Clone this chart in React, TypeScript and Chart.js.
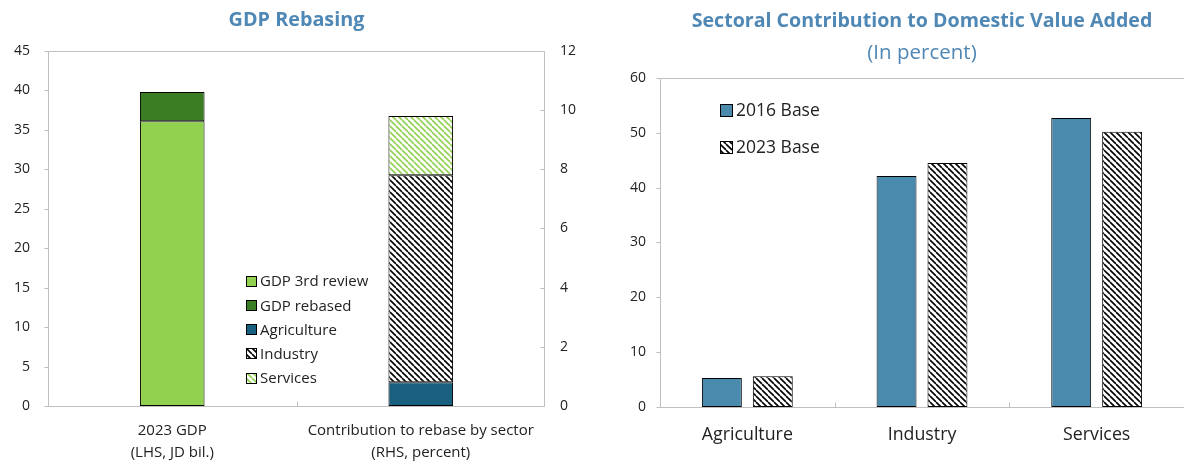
import React, { useEffect, useRef } from 'react';
import { Chart, registerables } from 'chart.js';

Chart.register(...registerables);

const FONT = "'Open Sans', 'Noto Sans', sans-serif";
const TITLE_COLOR = '#4F87B5';
const TEXT_COLOR = '#222222';
const FRAME_COLOR = '#BFBFBF';

// ---- Left chart data ----
const gdpCategories = [
  ['2023 GDP', '(LHS, JD bil.)'],
  ['Contribution to rebase by sector', '(RHS, percent)'],
];
const gdp3rdReview = [36.1, null];
const gdpRebased = [3.7, null];
const agriculture = [null, 0.8];
const industry = [null, 7.0];
const services = [null, 2.0];
const lhsRange = [0, 45, 5];
const rhsRange = [0, 12, 2];

// ---- Right chart data ----
const sectorCategories = ['Agriculture', 'Industry', 'Services'];
const base2016 = [5.3, 42.1, 52.7];
const base2023 = [5.6, 44.5, 50.2];
const sectorRange = [0, 60, 10];

function hatch(color: string, size = 6, lw = 1.6) {
  const c = document.createElement('canvas');
  c.width = size;
  c.height = size;
  const ctx = c.getContext('2d')!;
  ctx.fillStyle = '#ffffff';
  ctx.fillRect(0, 0, size, size);
  ctx.strokeStyle = color;
  ctx.lineWidth = lw;
  ctx.beginPath();
  for (const o of [-size, 0, size]) {
    ctx.moveTo(o, 0);
    ctx.lineTo(o + size, size);
  }
  ctx.stroke();
  return ctx.createPattern(c, 'repeat')!;
}

const framePlugin = {
  id: 'frame',
  beforeDatasetsDraw(chart: any, _args: any, opts: any) {
    const { ctx, chartArea: a } = chart;
    const L = Math.round(a.left) + 0.5;
    const R = Math.round(a.right) - 0.5;
    const T = Math.round(a.top) + 0.5;
    const B = Math.round(a.bottom) + 0.5;
    ctx.save();
    ctx.strokeStyle = FRAME_COLOR;
    ctx.lineWidth = 1;
    ctx.beginPath();
    const sides: string[] = opts.sides || [];
    if (sides.includes('top')) { ctx.moveTo(L, T); ctx.lineTo(opts.extendRight ? chart.width : R, T); }
    if (sides.includes('left')) { ctx.moveTo(L, T); ctx.lineTo(L, B); }
    if (sides.includes('right')) { ctx.moveTo(R, T); ctx.lineTo(R, B); }
    if (sides.includes('bottom')) { ctx.moveTo(L, B); ctx.lineTo(opts.extendRight ? chart.width : R, B); }
    for (const t of opts.yTicks || []) {
      const s = chart.scales[t.id];
      s.ticks.forEach((_: any, i: number) => {
        const y = Math.round(s.getPixelForTick(i)) + 0.5;
        if (t.side === 'left') { ctx.moveTo(L - 4, y); ctx.lineTo(L, y); }
        else { ctx.moveTo(R - 4, y); ctx.lineTo(R, y); }
      });
    }
    const xs = chart.scales.x;
    const n = xs.ticks.length;
    for (let i = 0; i < n - 1; i++) {
      const x = Math.round((xs.getPixelForTick(i) + xs.getPixelForTick(i + 1)) / 2) + 0.5;
      ctx.moveTo(x, B);
      ctx.lineTo(x, B - 5);
    }
    ctx.stroke();
    ctx.restore();
  },
};

const legendPlugin = {
  id: 'boxLegend',
  afterDraw(chart: any, _args: any, opts: any) {
    const { ctx } = chart;
    ctx.save();
    ctx.font = `${opts.fontSize}px ${FONT}`;
    ctx.textBaseline = 'middle';
    ctx.textAlign = 'left';
    chart.data.datasets.forEach((ds: any, i: number) => {
      const y = opts.y + i * opts.spacing;
      const b = opts.box;
      const bx = opts.x;
      const by = Math.round(y - b / 2);
      ctx.fillStyle = ds.backgroundColor;
      ctx.fillRect(bx, by, b, b);
      ctx.strokeStyle = '#000';
      ctx.lineWidth = 1;
      ctx.strokeRect(bx + 0.5, by + 0.5, b - 1, b - 1);
      ctx.fillStyle = TEXT_COLOR;
      ctx.fillText(ds.label, bx + b + opts.gap, y + 1);
    });
    ctx.restore();
  },
};

function GdpChart() {
  const ref = useRef<HTMLCanvasElement>(null);
  useEffect(() => {
    const chart = new Chart(ref.current!, {
      type: 'bar',
      data: {
        labels: gdpCategories as any,
        datasets: [
          { label: 'GDP 3rd review', data: gdp3rdReview, backgroundColor: '#92D050', yAxisID: 'y', stack: 'a' },
          { label: 'GDP rebased', data: gdpRebased, backgroundColor: '#3A7D22', yAxisID: 'y', stack: 'a' },
          { label: 'Agriculture', data: agriculture, backgroundColor: '#195F80', yAxisID: 'y2', stack: 'a' },
          { label: 'Industry', data: industry, backgroundColor: hatch('#000000') as any, yAxisID: 'y2', stack: 'a' },
          { label: 'Services', data: services, backgroundColor: hatch('#92D050') as any, yAxisID: 'y2', stack: 'a' },
        ] as any,
      },
      options: {
        animation: false,
        responsive: false,
        maintainAspectRatio: false,
        layout: { padding: 0 },
        datasets: {
          bar: { borderColor: '#000', borderWidth: 1, borderSkipped: false, categoryPercentage: 0.26, barPercentage: 1, skipNull: true } as any,
        },
        plugins: {
          legend: { display: false },
          tooltip: { enabled: false },
          title: {
            display: true,
            text: 'GDP Rebasing',
            color: TITLE_COLOR,
            font: { family: FONT, size: 19.8, weight: 'bold', lineHeight: 1.2 },
            padding: { top: 8, bottom: 19.2 },
            fullSize: false,
          },
          frame: { sides: ['top', 'left', 'right', 'bottom'], yTicks: [{ id: 'y', side: 'left' }, { id: 'y2', side: 'right' }] },
          boxLegend: { x: 246, y: 281, spacing: 24.3, box: 11, gap: 3, fontSize: 15 },
        } as any,
        scales: {
          x: {
            grid: { display: false, drawTicks: false },
            border: { display: false },
            ticks: { color: TEXT_COLOR, font: { family: FONT, size: 15, lineHeight: 1.5 }, padding: 13, maxRotation: 0, autoSkip: false },
            afterFit: (s: any) => { s.height = 60; },
          },
          y: {
            position: 'left',
            stacked: true,
            min: lhsRange[0], max: lhsRange[1],
            grid: { display: false, drawTicks: false },
            border: { display: false },
            ticks: { stepSize: lhsRange[2], color: TEXT_COLOR, font: { family: FONT, size: 14 }, padding: 18 },
            afterFit: (s: any) => { s.width = 48; },
          },
          y2: {
            position: 'right',
            stacked: true,
            min: rhsRange[0], max: rhsRange[1],
            grid: { display: false, drawTicks: false },
            border: { display: false },
            ticks: { stepSize: rhsRange[2], color: TEXT_COLOR, font: { family: FONT, size: 14 }, padding: 15 },
            afterFit: (s: any) => { s.width = 55; },
          },
        },
      },
      plugins: [framePlugin, legendPlugin],
    });
    return () => chart.destroy();
  }, []);
  return <canvas ref={ref} width={600} height={466} style={{ display: 'block' }} />;
}

function SectorChart() {
  const ref = useRef<HTMLCanvasElement>(null);
  useEffect(() => {
    const chart = new Chart(ref.current!, {
      type: 'bar',
      data: {
        labels: sectorCategories,
        datasets: [
          { label: '2016 Base', data: base2016, backgroundColor: '#4A8BAD' },
          { label: '2023 Base', data: base2023, backgroundColor: hatch('#000000') as any },
        ] as any,
      },
      options: {
        animation: false,
        responsive: false,
        maintainAspectRatio: false,
        layout: { padding: 0 },
        datasets: {
          bar: { borderColor: '#000', borderWidth: 1, borderSkipped: false, categoryPercentage: 0.583, barPercentage: 0.784 } as any,
        },
        plugins: {
          legend: { display: false },
          tooltip: { enabled: false },
          title: {
            display: true,
            text: 'Sectoral Contribution to Domestic Value Added',
            color: TITLE_COLOR,
            font: { family: FONT, size: 19.6, weight: 'bold', lineHeight: 1.2 },
            padding: { top: 10, bottom: 0 },
            fullSize: false,
          },
          subtitle: {
            display: true,
            text: '(In percent)',
            color: TITLE_COLOR,
            font: { family: FONT, size: 20.5, weight: 'normal', lineHeight: 1.2 },
            padding: { top: 7, bottom: 12.8 },
            fullSize: false,
          },
          frame: { sides: ['top', 'left', 'bottom'], extendRight: true, yTicks: [{ id: 'y', side: 'left' }] },
          boxLegend: { x: 120, y: 110, spacing: 37, box: 13, gap: 3, fontSize: 17.5 },
        } as any,
        scales: {
          x: {
            grid: { display: false, drawTicks: false },
            border: { display: false },
            ticks: { color: TEXT_COLOR, font: { family: FONT, size: 17.8 }, padding: 17, maxRotation: 0, autoSkip: false },
            afterFit: (s: any) => { s.height = 466 - 407; },
          },
          y: {
            min: sectorRange[0], max: sectorRange[1],
            grid: { display: false, drawTicks: false },
            border: { display: false },
            ticks: { stepSize: sectorRange[2], color: TEXT_COLOR, font: { family: FONT, size: 14 }, padding: 14 },
            afterFit: (s: any) => { s.width = 60; },
          },
        },
      },
      plugins: [framePlugin, legendPlugin],
    });
    return () => chart.destroy();
  }, []);
  return <canvas ref={ref} width={584} height={466} style={{ display: 'block' }} />;
}

export default function App() {
  return (
    <div style={{ position: 'fixed', left: 0, top: 0, width: 1184, height: 466, display: 'flex', background: '#fff', fontFamily: FONT }}>
      <GdpChart />
      <SectorChart />
    </div>
  );
}
